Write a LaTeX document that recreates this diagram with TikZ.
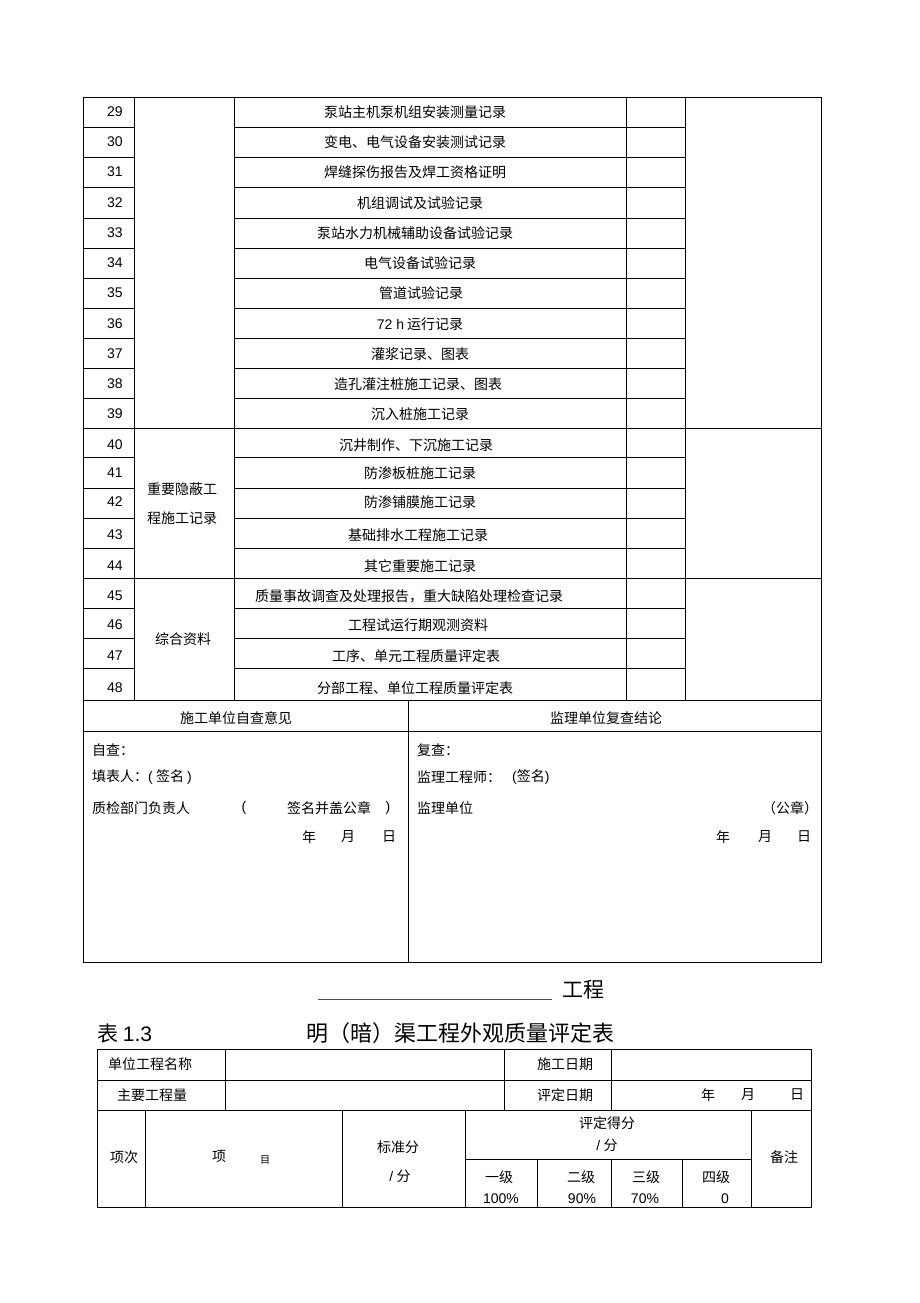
\documentclass[tikz,border=0pt]{standalone}
\usepackage{fontspec}
\setmainfont{Liberation Sans}
\newfontfamily\cjk{Noto Sans CJK SC}

\begin{document}
\begin{tikzpicture}[x=1pt, y=-1pt,
    txt/.style={font=\cjk\fontsize{14}{14}\selectfont, inner sep=0pt},
    num/.style={font=\fontsize{14}{14}\selectfont, inner sep=0pt},
    big/.style={font=\cjk\fontsize{21}{21}\selectfont, inner sep=0pt},
    small/.style={font=\cjk\fontsize{10}{10}\selectfont, inner sep=0pt},
    grid/.style={line width=0.8pt, black}]
    \useasboundingbox[fill=white] (0,0) rectangle (920,1303);

    % 上の表の罫線
    \draw[grid] (83,97) rectangle (821,962);
    \draw[grid] (134,97) -- (134,700) (234,97) -- (234,700) (626,97) -- (626,700) (685,97) -- (685,700);
    \draw[grid] (83,428) -- (821,428) (83,578) -- (821,578) (83,700) -- (821,700) (83,731) -- (821,731);
    \draw[grid] (408,700) -- (408,962);
    \foreach \y in {127,157,187,218,248,278,308,338,368,398,457,488,518,548,608,638,668}
      \draw[grid] (83,\y) -- (134,\y) (234,\y) -- (685,\y);

    % 番号と項目
    \node[num] (n29) at (115,112) {29};   \node[txt] (t29) at (415,112) {泵站主机泵机组安装测量记录};
    \node[num] (n30) at (115,142) {30};   \node[txt] (t30) at (415,142) {变电、电气设备安装测试记录};
    \node[num] (n31) at (115,172) {31};   \node[txt] (t31) at (415,172) {焊缝探伤报告及焊工资格证明};
    \node[num] (n32) at (115,203) {32};   \node[txt] (t32) at (420,203) {机组调试及试验记录};
    \node[num] (n33) at (115,233) {33};   \node[txt] (t33) at (415,233) {泵站水力机械辅助设备试验记录};
    \node[num] (n34) at (115,263) {34};   \node[txt] (t34) at (420,263) {电气设备试验记录};
    \node[num] (n35) at (115,293) {35};   \node[txt] (t35) at (421,293) {管道试验记录};
    \node[num] (n36) at (115,324) {36};   \node[txt] (t36) at (420,324) {{\rmfamily 72 h} 运行记录};
    \node[num] (n37) at (115,354) {37};   \node[txt] (t37) at (420,354) {灌浆记录、图表};
    \node[num] (n38) at (115,384) {38};   \node[txt] (t38) at (418,384) {造孔灌注桩施工记录、图表};
    \node[num] (n39) at (115,414) {39};   \node[txt] (t39) at (420,414) {沉入桩施工记录};
    \node[num] (n40) at (115,445) {40};   \node[txt] (t40) at (416,445) {沉井制作、下沉施工记录};
    \node[num] (n41) at (115,473) {41};   \node[txt] (t41) at (420,473) {防渗板桩施工记录};
    \node[num] (n42) at (115,502) {42};   \node[txt] (t42) at (420,502) {防渗铺膜施工记录};
    \node[num] (n43) at (115,535) {43};   \node[txt] (t43) at (418,535) {基础排水工程施工记录};
    \node[num] (n44) at (115,566) {44};   \node[txt] (t44) at (420,566) {其它重要施工记录};
    \node[num] (n45) at (115,596) {45};   \node[txt] (t45) at (409,596) {质量事故调查及处理报告，重大缺陷处理检查记录};
    \node[num] (n46) at (115,625) {46};   \node[txt] (t46) at (418,625) {工程试运行期观测资料};
    \node[num] (n47) at (115,656) {47};   \node[txt] (t47) at (416,656) {工序、单元工程质量评定表};
    \node[num] (n48) at (115,688) {48};   \node[txt] (t48) at (415,688) {分部工程、单位工程质量评定表};

    % 分類
    \node[txt] (g1a) at (182,489) {重要隐蔽工};
    \node[txt] (g1b) at (182,518) {程施工记录};
    \node[txt] (g2) at (183,639) {综合资料};

    % 意見欄
    \node[txt] (h1) at (236,718) {施工单位自查意见};
    \node[txt] (h2) at (606,718) {监理单位复查结论};
    \node[txt, anchor=west] (l1) at (92,750) {自查：};
    \node[txt, anchor=west] (l2) at (92,777) {填表人：{\rmfamily (} 签名 {\rmfamily )}};
    \node[txt, anchor=west] (l3) at (92,808) {质检部门负责人};
    \node[num] (l3a) at (244,808) {(};
    \node[txt] (l3b) at (329,808) {签名并盖公章};
    \node[num] (l3c) at (388,808) {)};
    \node[txt] (ly) at (309,837) {年};
    \node[txt] (lm) at (348,837) {月};
    \node[txt] (ld) at (389,837) {日};
    \node[txt, anchor=west] (r1) at (417,750) {复查：};
    \node[txt, anchor=west] (r2) at (417,777) {监理工程师：};
    \node[txt, anchor=west] (r2a) at (512,777) {{\rmfamily (}签名{\rmfamily )}};
    \node[txt, anchor=west] (r3) at (417,808) {监理单位};
    \node[txt] (r3a) at (790,808) {（公章）};
    \node[txt] (ry) at (723,837) {年};
    \node[txt] (rm) at (765,837) {月};
    \node[txt] (rd) at (804,837) {日};

    % 表題
    \coordinate (u1) at (318,999);
    \coordinate (u2) at (552,999);
    \draw[line width=0.6pt, black!70] (u1) -- (u2);
    \node[big] (proj) at (583,990) {工程};
    \node[big, anchor=west] (tabno) at (97,1033) {表 {\rmfamily 1.3}};
    \node[big, font=\cjk\fontsize{22}{22}\selectfont] (title) at (460,1033) {明（暗）渠工程外观质量评定表};

    % 下の表の罫線
    \draw[grid] (97,1049) rectangle (811,1207);
    \draw[grid] (97,1080) -- (811,1080) (97,1110) -- (811,1110) (465,1159) -- (751,1159);
    \draw[grid] (225,1049) -- (225,1110) (504,1049) -- (504,1110) (611,1049) -- (611,1110);
    \draw[grid] (145,1110) -- (145,1207) (342,1110) -- (342,1207) (465,1110) -- (465,1207) (751,1110) -- (751,1207);
    \draw[grid] (537,1159) -- (537,1207) (611,1159) -- (611,1207) (682,1159) -- (682,1207);

    % 下の表の文字
    \node[txt] (b1) at (150,1064) {单位工程名称};
    \node[txt] (b2) at (565,1064) {施工日期};
    \node[txt] (b3) at (152,1095) {主要工程量};
    \node[txt] (b4) at (565,1095) {评定日期};
    \node[txt] (by) at (708,1095) {年};
    \node[txt] (bm) at (748,1095) {月};
    \node[txt] (bd) at (797,1095) {日};
    \node[txt] (c1) at (124,1157) {项次};
    \node[txt] (c2) at (219,1156) {项};
    \node[small] (c2b) at (265,1160) {目};
    \node[txt] (c3) at (398,1147) {标准分};
    \node[txt] (c3b) at (400,1176) {{\rmfamily /} 分};
    \node[txt] (c4) at (607,1123) {评定得分};
    \node[txt] (c4b) at (607,1145) {{\rmfamily /} 分};
    \node[txt] (d1) at (499,1177) {一级};
    \node[txt] (d2) at (581,1177) {二级};
    \node[txt] (d3) at (646,1177) {三级};
    \node[txt] (d4) at (716,1177) {四级};
    \node[num] (e1) at (501,1199) {100\%};
    \node[num] (e2) at (582,1199) {90\%};
    \node[num] (e3) at (645,1199) {70\%};
    \node[num] (e4) at (725,1199) {0};
    \node[txt] (c5) at (784,1157) {备注};

  \end{tikzpicture}
\end{document}
